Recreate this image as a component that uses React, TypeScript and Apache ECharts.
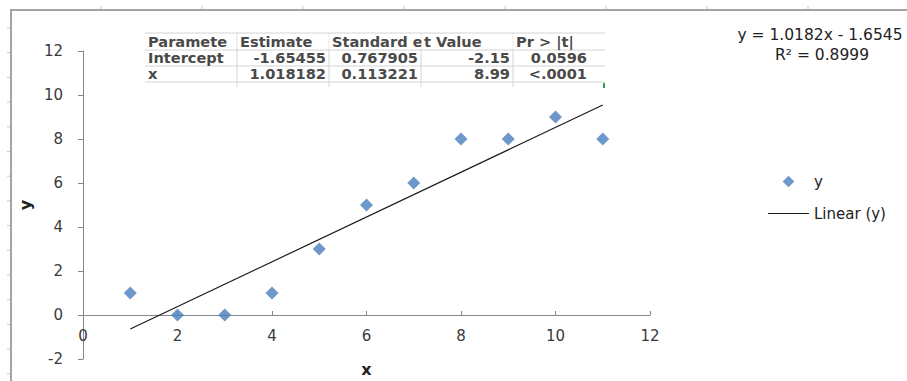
import React, { useEffect, useRef } from "react";
import * as echarts from "echarts";

const xValues = [1, 2, 3, 4, 5, 6, 7, 8, 9, 10, 11];
const yValues = [1, 0, 0, 1, 3, 5, 6, 8, 8, 9, 8];
const slope = 1.018182;
const intercept = -1.65455;
const trendRange = [1, 11];
const yMin = -2;
const yMax = 12;
const equationText = "y = 1.0182x - 1.6545";
const r2Text = "R² = 0.8999";
const tableHeader = ["Paramete", "Estimate", "Standard e", "t Value", "Pr > |t|"];
const tableRows = [
  ["Intercept", "-1.65455", "0.767905", "-2.15", "0.0596"],
  ["x", "1.018182", "0.113221", "8.99", "<.0001"],
];

const FONT = "DejaVu Sans";
const TXT = "#3a3a3a";

export default function App() {
  const ref = useRef<HTMLDivElement>(null);
  useEffect(() => {
    if (!ref.current) return;
    const chart = echarts.init(ref.current, null, { renderer: "svg" });

    const gridTop = 51;
    const gridBottom = 22;
    const gridH = 381 - gridTop - gridBottom;
    const xAxisOffset = -(gridH * (0 - yMin)) / (yMax - yMin);

    const colX = [145, 237, 329, 421, 513, 605];
    const rowY = [33, 50, 66, 82];
    const graphic: any[] = [];
    graphic.push({
      type: "polyline",
      shape: { points: [[11, 381], [11, 10], [907, 10]] },
      style: { stroke: "#a3a3a3", lineWidth: 2, fill: "none" },
      silent: true,
    });
    for (let i = 1; i <= 8; i++) {
      const x = 101 * i;
      graphic.push({ type: "line", shape: { x1: x, y1: 6, x2: x, y2: 9 }, style: { stroke: "#c8c8c8", lineWidth: 1 } });
    }
    for (let i = 0; i < 15; i++) {
      const y = 28 + 24.7 * i;
      graphic.push({ type: "line", shape: { x1: 7, y1: y, x2: 10, y2: y }, style: { stroke: "#c8c8c8", lineWidth: 1 } });
    }
    rowY.forEach((y) => {
      graphic.push({ type: "line", shape: { x1: colX[0], y1: y, x2: colX[5], y2: y }, style: { stroke: "#d4d4d4", lineWidth: 1 } });
    });
    colX.slice(1, 5).forEach((x) => {
      graphic.push({ type: "line", shape: { x1: x, y1: rowY[0], x2: x, y2: 87 }, style: { stroke: "#d4d4d4", lineWidth: 1 } });
    });
    const textStyle = (t: string, x: number, y: number, align: string) => ({
      type: "text",
      x,
      y,
      scaleX: 1.08,
      style: { text: t, font: `bold 13.5px '${FONT}'`, fill: "#4a4a4a", align, verticalAlign: "middle" },
    });
    const cellMid = [42, 58, 74];
    tableHeader.forEach((h, c) => {
      if (c > 0) {
        graphic.push({ type: "rect", shape: { x: colX[c] + 0.5, y: rowY[0] + 1, width: 91, height: 15 }, style: { fill: "#fff" } });
      }
      graphic.push(textStyle(h, colX[c] + 3, cellMid[0], "left"));
    });
    tableRows.forEach((row, r) => {
      row.forEach((v, c) => {
        if (c === 0) graphic.push(textStyle(v, colX[0] + 3, cellMid[r + 1], "left"));
        else if (c === 4) graphic.push(textStyle(v, 587, cellMid[r + 1], "right"));
        else graphic.push(textStyle(v, colX[c + 1] - 3, cellMid[r + 1], "right"));
      });
    });
    graphic.push({ type: "rect", shape: { x: 603, y: 83, width: 2, height: 5 }, style: { fill: "#3a9a5a" } });
    graphic.push({
      type: "text", x: 820, y: 35,
      style: { text: equationText, font: `15.5px '${FONT}'`, fill: "#222", align: "center", verticalAlign: "middle" },
    });
    graphic.push({
      type: "text", x: 822, y: 55,
      style: { text: r2Text, font: `15.5px '${FONT}'`, fill: "#222", align: "center", verticalAlign: "middle" },
    });

    const axisCommon = {
      type: "value",
      interval: 2,
      splitLine: { show: false },
      axisLine: { show: true, lineStyle: { color: "#868686", width: 1 } },
      axisLabel: { color: TXT, fontFamily: FONT, fontSize: 15 },
      nameTextStyle: { color: "#222", fontFamily: FONT, fontSize: 16, fontWeight: "bold" },
    };

    chart.setOption({
      animation: false,
      backgroundColor: "#fff",
      textStyle: { fontFamily: FONT },
      grid: { left: 83, right: 257, top: gridTop, bottom: gridBottom, containLabel: false, outerBoundsMode: "none" },
      xAxis: {
        ...axisCommon,
        min: 0,
        max: 12,
        name: "x",
        nameLocation: "middle",
        nameGap: 46,
        offset: xAxisOffset,
        axisLine: { show: true, onZero: false, lineStyle: { color: "#868686", width: 1 } },
        axisTick: { show: true, inside: true, length: 4, lineStyle: { color: "#868686" } },
        axisLabel: { ...axisCommon.axisLabel, margin: 13 },
      },
      yAxis: {
        ...axisCommon,
        min: yMin,
        max: yMax,
        name: "y",
        nameLocation: "middle",
        nameGap: 49,
        axisTick: { show: true, inside: false, length: 5, lineStyle: { color: "#868686" } },
        axisLabel: { ...axisCommon.axisLabel, margin: 20 },
      },
      legend: {
        orient: "vertical",
        left: 763,
        top: 169,
        itemWidth: 41,
        itemHeight: 12,
        itemGap: 17,
        textStyle: { color: "#222", fontFamily: FONT, fontSize: 15 },
        data: [
          { name: "y", icon: "path://M0,6L0,6.01L0.01,6Z M21,0L27,6L21,12L15,6Z M42,6L42,6.01L41.99,6Z" },
          { name: "Linear (y)", icon: "path://M0,0H42V1H0Z" },
        ],
      },
      graphic,
      series: [
        {
          name: "y",
          type: "scatter",
          symbol: "diamond",
          symbolSize: 13,
          itemStyle: { color: "#4A7EBB" },
          data: xValues.map((x, i) => [x, yValues[i]]),
          z: 3,
        },
        {
          name: "Linear (y)",
          type: "line",
          symbol: "none",
          lineStyle: { color: "#1a1a1a", width: 1.2 },
          itemStyle: { color: "#1a1a1a" },
          data: trendRange.map((x) => [x, slope * x + intercept]),
          z: 2,
        },
      ],
    });
    return () => chart.dispose();
  }, []);
  return <div ref={ref} style={{ width: 907, height: 381, position: "fixed", left: 0, top: 0 }} />;
}
